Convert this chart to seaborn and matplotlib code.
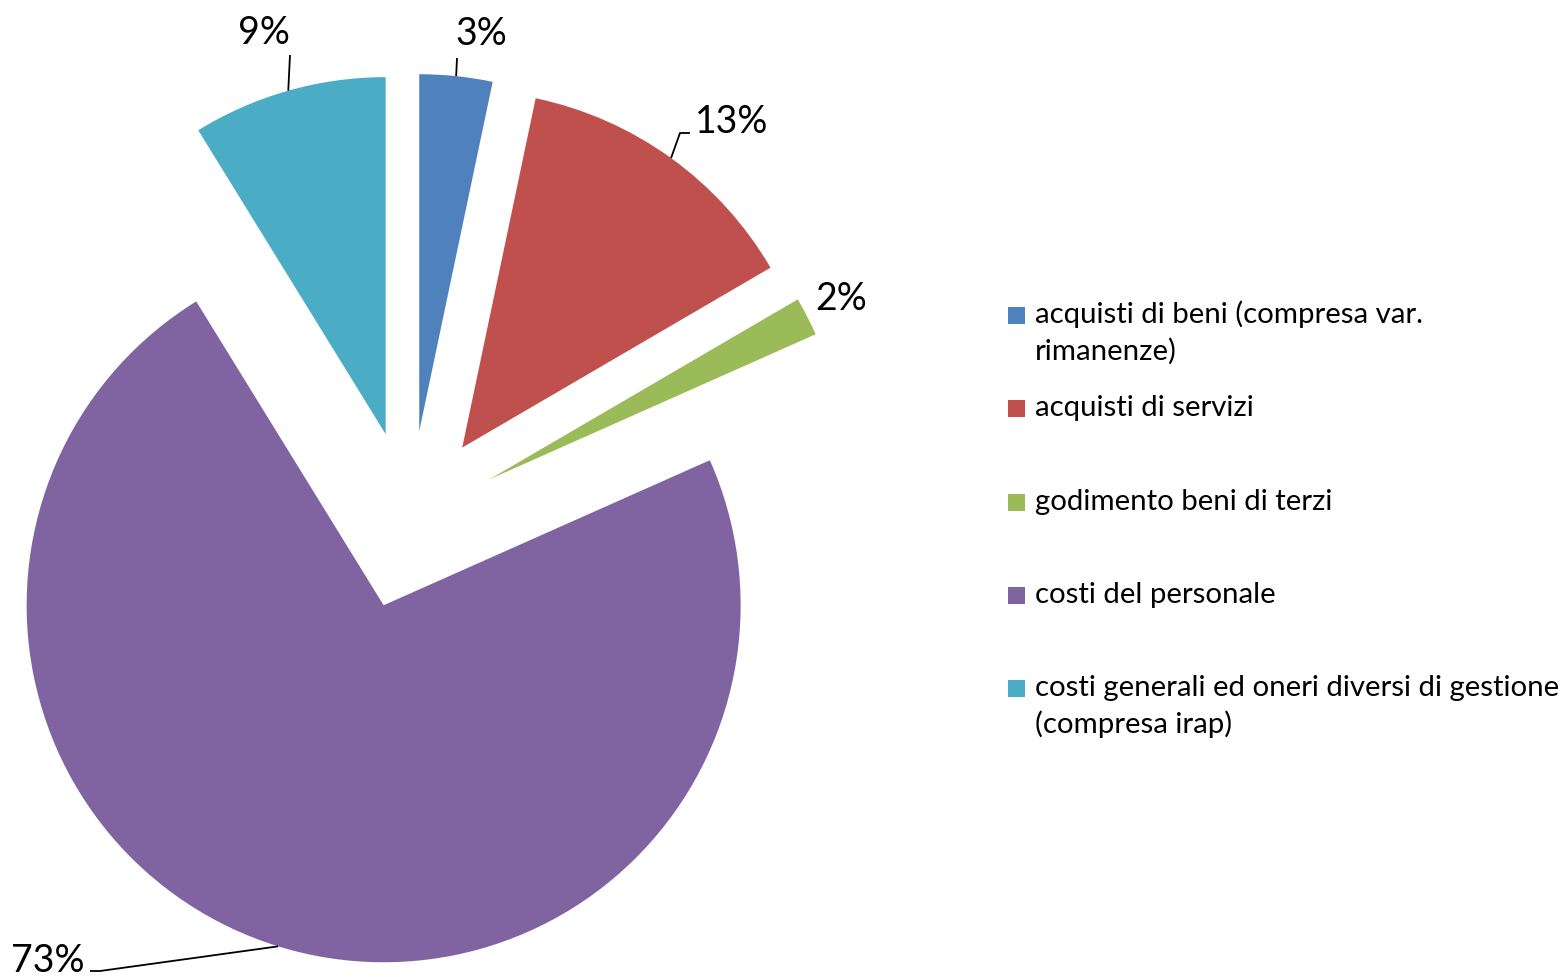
import numpy as np
import seaborn as sns
from matplotlib import pyplot as plt
from matplotlib.patches import Rectangle

sns.set_theme(style="white")
plt.rcParams['font.family'] = ['Lato', 'DejaVu Sans']

# data
categories = ["acquisti di beni (compresa var.\nrimanenze)",
              "acquisti di servizi",
              "godimento beni di terzi",
              "costi del personale",
              "costi generali ed oneri diversi di gestione\n(compresa irap)"]
shares = [3.3, 13.3, 1.75, 72.9, 8.8]
pct_labels = ["3%", "13%", "2%", "73%", "9%"]
colors = ["#4F81BD", "#C0504D", "#9BBB59", "#8064A2", "#4BACC6"]

W, H = 1568, 977
R = 357.0          # pie radius in px
cx, cy = 410, 520  # pie centre in px (from top)

fig = plt.figure(figsize=(W / 100, H / 100), dpi=100)
ax = fig.add_axes([0, 0, 1, 1])

explode = [0.25] * len(shares)
wedges, _ = ax.pie(shares, colors=colors, explode=explode, startangle=90,
                   counterclock=False, radius=1,
                   wedgeprops=dict(linewidth=0))
ax.set_aspect('auto')
ax.set_xlim(-cx / R, (W - cx) / R)
ax.set_ylim(-(H - cy) / R, cy / R)
ax.set_axis_off()

# leader lines from middle of each arc
# (label anchor, halign, extra line points) in px
label_pos = [((455, 45), 'left', [(457, 58)]),
             ((695, 133), 'left', [(680, 133), (690, 133)]),
             ((815, 310), 'left', []),
             ((85, 972), 'right', [(100, 971), (90, 971)]),
             ((290, 44), 'right', [(290, 55)])]

def px(p):
    return ((p[0] - cx) / R, (cy - p[1]) / R)

for w, lab, (tp, ha, pts) in zip(wedges, pct_labels, label_pos):
    mid = np.deg2rad((w.theta1 + w.theta2) / 2)
    c = w.center
    arc = (c[0] + np.cos(mid), c[1] + np.sin(mid))
    if pts:
        xs = [arc[0]] + [px(p)[0] for p in pts]
        ys = [arc[1]] + [px(p)[1] for p in pts]
        ax.plot(xs, ys, color='black', lw=1.3, solid_capstyle='butt')
    tx, ty = px(tp)
    ax.text(tx, ty, lab, ha=ha, va='baseline', fontsize=27, color='black')

# legend
base0, step, line_h = 323, 93.3, 37
for i, (lab, col) in enumerate(zip(categories, colors)):
    b = base0 + i * step
    ax.add_patch(Rectangle((1008 / W, 1 - 324 / H - i * step / H),
                           17 / W, 17 / H, transform=fig.transFigure,
                           facecolor=col, edgecolor='none', clip_on=False))
    for k, line in enumerate(lab.split('\n')):
        fig.text(1035 / W, 1 - (b + k * line_h) / H, line, ha='left',
                 va='baseline', fontsize=21.2, color='black')

fig.savefig('out.png', dpi=100)
